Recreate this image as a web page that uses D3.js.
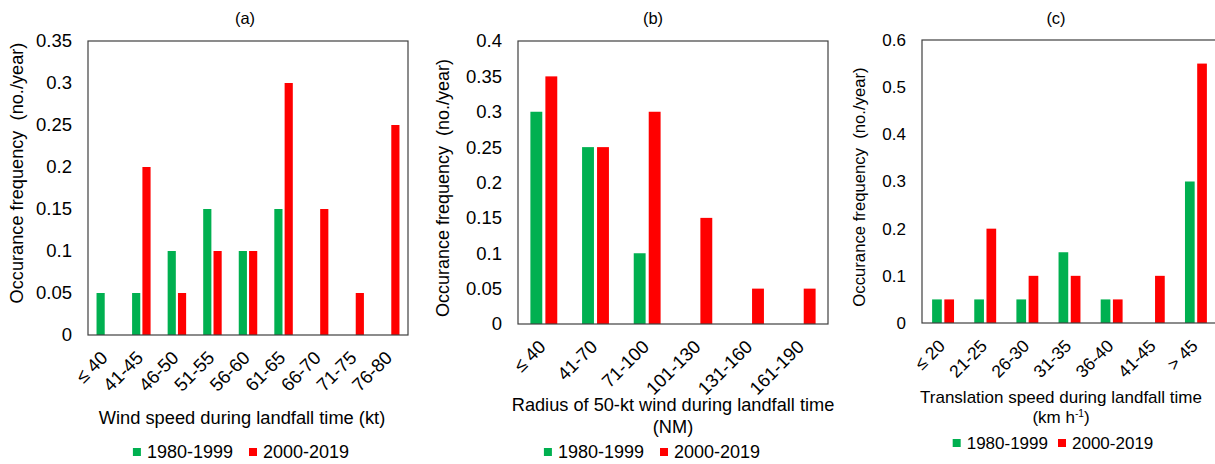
<!DOCTYPE html>
<html>
<head>
<meta charset="utf-8">
<script src="https://cdn.jsdelivr.net/npm/d3@7"></script>
<style>
  body { margin: 0; background: #fff; }
  text { font-family: Arial, "Liberation Sans", sans-serif; fill: #000; }
</style>
</head>
<body>
<div id="chart"></div>
<script>
var seriesNames = ['1980-1999', '2000-2019']
var seriesColors = ['#00B050', '#FF0000']

var windCats = ['≤ 40', '41-45', '46-50', '51-55', '56-60', '61-65', '66-70', '71-75', '76-80']
var windOld = [0.05, 0.05, 0.1, 0.15, 0.1, 0.15, 0, 0, 0]
var windNew = [0, 0.2, 0.05, 0.1, 0.1, 0.3, 0.15, 0.05, 0.25]
var windTicks = [0, 0.05, 0.1, 0.15, 0.2, 0.25, 0.3, 0.35]

var radiusCats = ['≤ 40', '41-70', '71-100', '101-130', '131-160', '161-190']
var radiusOld = [0.3, 0.25, 0.1, 0, 0, 0]
var radiusNew = [0.35, 0.25, 0.3, 0.15, 0.05, 0.05]
var radiusTicks = [0, 0.05, 0.1, 0.15, 0.2, 0.25, 0.3, 0.35, 0.4]

var transCats = ['≤ 20', '21-25', '26-30', '31-35', '36-40', '41-45', '> 45']
var transOld = [0.05, 0.05, 0.05, 0.15, 0.05, 0, 0.3]
var transNew = [0.05, 0.2, 0.1, 0.1, 0.05, 0.1, 0.55]
var transTicks = [0, 0.1, 0.2, 0.3, 0.4, 0.5, 0.6]

var svg = d3.select('#chart').append('svg')
  .attr('width', 1215)
  .attr('height', 464)

function drawPanel(cfg) {
  var g = svg.append('g')

  var x0 = d3.scaleBand()
    .domain(cfg.cats)
    .range([cfg.left, cfg.right])

  var band = x0.bandwidth()
  var x1 = d3.scaleBand()
    .domain([0, 1])
    .range([0.24 * band, 0.76 * band])
    .paddingInner(0.207)

  var y = d3.scaleLinear()
    .domain([0, cfg.max])
    .range([cfg.bottom, cfg.top])

  // bars
  var rows = cfg.cats.map(function(c, i) {
    return {cat: c, values: [cfg.old[i], cfg.new[i]]}
  })

  var grp = g.selectAll('.grp')
    .data(rows)
    .enter().append('g')
    .attr('transform', d => 'translate(' + x0(d.cat) + ',0)')

  grp.selectAll('rect')
    .data(d => d.values.map((v, j) => ({v: v, j: j})))
    .enter().append('rect')
    .attr('x', d => x1(d.j))
    .attr('width', x1.bandwidth())
    .attr('y', d => y(d.v))
    .attr('height', d => cfg.bottom - y(d.v))
    .style('fill', d => seriesColors[d.j])

  // frame
  g.append('rect')
    .attr('x', cfg.left)
    .attr('y', cfg.top)
    .attr('width', cfg.right - cfg.left)
    .attr('height', cfg.bottom - cfg.top)
    .style('fill', 'none')
    .style('stroke', '#404040')
    .style('stroke-width', 1.2)

  // y ticks
  g.selectAll('.ytick')
    .data(cfg.ticks)
    .enter().append('text')
    .attr('x', cfg.left - 16)
    .attr('y', d => y(d))
    .attr('dy', '0.35em')
    .attr('text-anchor', 'end')
    .style('font-size', cfg.tickSize + 'px')
    .text(d => d3.format('~g')(d))

  // x ticks
  g.selectAll('.xtick')
    .data(cfg.cats)
    .enter().append('text')
    .attr('text-anchor', 'end')
    .style('font-size', cfg.catSize + 'px')
    .attr('transform', d => 'translate(' + (x0(d) + band / 2 + 3) + ',' + (cfg.bottom + 24) + ') rotate(-45)')
    .text(d => d)

  // title
  g.append('text')
    .attr('x', cfg.titleX)
    .attr('y', 24)
    .attr('text-anchor', 'middle')
    .style('font-size', '16.5px')
    .text(cfg.title)

  // y label
  g.append('text')
    .attr('transform', 'translate(' + cfg.ylabX + ',' + cfg.ylabY + ') rotate(-90)')
    .attr('text-anchor', 'middle')
    .attr('dy', '0.35em')
    .style('font-size', cfg.ylabSize + 'px')
    .style('white-space', 'pre')
    .text('Occurance frequency  (no./year)')

  // x label lines
  cfg.xlab.forEach(function(line, i) {
    var t = g.append('text')
      .attr('x', cfg.xlabX)
      .attr('y', cfg.xlabY[i])
      .attr('text-anchor', 'middle')
      .style('font-size', cfg.xlabSize + 'px')
    if (line == 'km') {
      t.append('tspan').text('(km h')
      t.append('tspan').attr('dy', -6).style('font-size', (cfg.xlabSize * 0.6) + 'px').text('-1')
      t.append('tspan').attr('dy', 6).text(')')
    } else {
      t.text(line)
    }
  })

  // legend
  var leg = g.append('g')
  var cursor = 0
  seriesNames.forEach(function(name, i) {
    leg.append('rect')
      .attr('x', cursor)
      .attr('y', -4)
      .attr('width', 8)
      .attr('height', 8)
      .style('fill', seriesColors[i])
    var t = leg.append('text')
      .attr('x', cursor + 14)
      .attr('dy', '0.35em')
      .style('font-size', cfg.legSize + 'px')
      .text(name)
    cursor += 14 + t.node().getComputedTextLength() + cfg.legGap
  })
  var w = cursor - cfg.legGap
  leg.attr('transform', 'translate(' + (cfg.legX - w / 2) + ',' + cfg.legY + ')')
}

drawPanel({
  cats: windCats, old: windOld, new: windNew, ticks: windTicks, max: 0.35,
  left: 88, right: 408, top: 41, bottom: 335,
  title: '(a)', titleX: 245,
  ylabX: 17, ylabY: 173, ylabSize: 18.2,
  xlab: ['Wind speed during landfall time (kt)'], xlabX: 242, xlabY: [424], xlabSize: 18.3,
  tickSize: 18.5, catSize: 18.5,
  legX: 241, legY: 452, legSize: 18, legGap: 16
})

drawPanel({
  cats: radiusCats, old: radiusOld, new: radiusNew, ticks: radiusTicks, max: 0.4,
  left: 518, right: 828, top: 41, bottom: 324,
  title: '(b)', titleX: 653,
  ylabX: 443, ylabY: 188, ylabSize: 18,
  xlab: ['Radius of 50-kt wind during landfall time', '(NM)'], xlabX: 673, xlabY: [411, 433], xlabSize: 18.2,
  tickSize: 18.5, catSize: 18.5,
  legX: 652, legY: 452, legSize: 18, legGap: 16
})

drawPanel({
  cats: transCats, old: transOld, new: transNew, ticks: transTicks, max: 0.6,
  left: 922, right: 1217, top: 40, bottom: 323,
  title: '(c)', titleX: 1056,
  ylabX: 859, ylabY: 187, ylabSize: 16.7,
  xlab: ['Translation speed during landfall time', 'km'], xlabX: 1061, xlabY: [403, 423], xlabSize: 17,
  tickSize: 17, catSize: 17.5,
  legX: 1053, legY: 443, legSize: 17, legGap: 10
})
</script>
</body>
</html>
